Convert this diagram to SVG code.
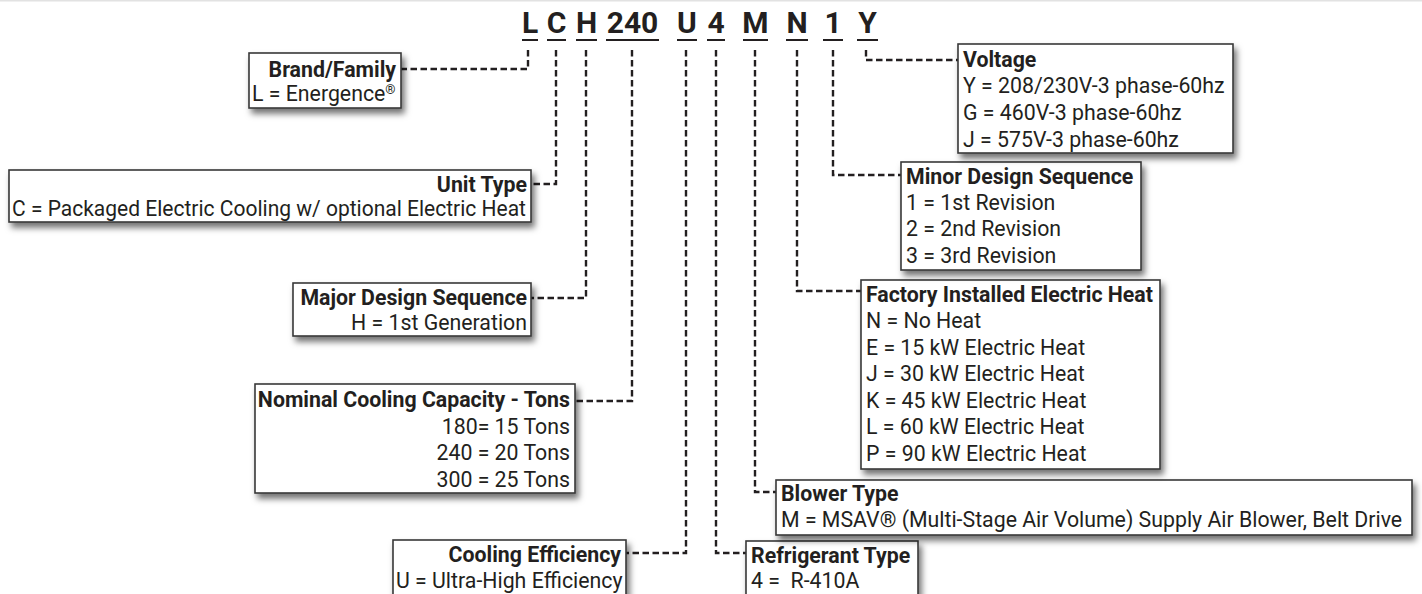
<svg xmlns="http://www.w3.org/2000/svg" width="1422" height="594" viewBox="0 0 1422 594">
<defs>
<filter id="sh" x="-10%" y="-20%" width="125%" height="160%">
<feDropShadow dx="3" dy="5" stdDeviation="3" flood-color="#000" flood-opacity="0.55"/>
</filter>
<style>
.box{fill:#fff;stroke:#3a3a3a;stroke-width:1.6;filter:url(#sh)}
.t{font-family:Roboto,"Liberation Sans",sans-serif;font-size:21.3px;fill:#231f20}
.b{font-weight:bold}
.r{text-anchor:end}
.code{font-family:Roboto,"Liberation Sans",sans-serif;font-size:30px;font-weight:bold;fill:#231f20;text-anchor:middle}
.ul{stroke:#231f20;stroke-width:2}
.c{fill:none;stroke:#231f20;stroke-width:2.4;stroke-dasharray:6.5 3.5}
</style>
</defs>
<rect x="0" y="0" width="1422" height="594" fill="#fff"/>
<line x1="0" y1="0.5" x2="1422" y2="0.5" stroke="#e2e2e2" stroke-width="2"/>
<g id="code">
<text class="code" x="530" y="33">L</text>
<text class="code" x="556.5" y="33">C</text>
<text class="code" x="586.5" y="33">H</text>
<text class="code" x="632.5" y="33">240</text>
<text class="code" x="687" y="33">U</text>
<text class="code" x="716" y="33">4</text>
<text class="code" x="755.5" y="33">M</text>
<text class="code" x="797" y="33">N</text>
<text class="code" x="833" y="33">1</text>
<text class="code" x="867.5" y="33">Y</text>
<line class="ul" x1="522" y1="40" x2="538" y2="40"/>
<line class="ul" x1="547" y1="40" x2="566" y2="40"/>
<line class="ul" x1="576" y1="40" x2="597" y2="40"/>
<line class="ul" x1="606" y1="40" x2="659" y2="40"/>
<line class="ul" x1="677" y1="40" x2="697" y2="40"/>
<line class="ul" x1="707" y1="40" x2="725" y2="40"/>
<line class="ul" x1="743" y1="40" x2="768" y2="40"/>
<line class="ul" x1="786" y1="40" x2="808" y2="40"/>
<line class="ul" x1="823" y1="40" x2="843" y2="40"/>
<line class="ul" x1="857" y1="40" x2="878" y2="40"/>
</g>
<g id="connectors">
<polyline class="c" points="528,50 528,69 401,69"/>
<polyline class="c" points="556,50 556,184 531,184"/>
<polyline class="c" points="586,50 586,298 531,298"/>
<polyline class="c" points="632,50 632,401 575,401"/>
<polyline class="c" points="686,50 686,553 626,553"/>
<polyline class="c" points="716,50 716,553 746,553"/>
<polyline class="c" points="755,50 755,492 776,492"/>
<polyline class="c" points="797,50 797,291 861,291"/>
<polyline class="c" points="833,50 833,175 901,175"/>
<polyline class="c" points="866,50 866,60 958,60"/>
</g>
<g id="brand">
<rect class="box" x="249" y="53" width="152" height="55"/>
<text class="t b r" x="396" y="77">Brand/Family</text>
<text class="t" x="252" y="101">L = Energence<tspan font-size="13" dy="-7">®</tspan></text>
</g>
<g id="unit-type">
<rect class="box" x="9" y="170" width="522" height="52"/>
<text class="t b r" x="527" y="192">Unit Type</text>
<text class="t" x="12" y="216" textLength="514" lengthAdjust="spacingAndGlyphs">C = Packaged Electric Cooling w/ optional Electric Heat</text>
</g>
<g id="major">
<rect class="box" x="293" y="283" width="238" height="53"/>
<text class="t b r" x="527" y="305">Major Design Sequence</text>
<text class="t r" x="527" y="330">H = 1st Generation</text>
</g>
<g id="capacity">
<rect class="box" x="255" y="384" width="320" height="109"/>
<text class="t b r" x="570" y="407">Nominal Cooling Capacity - Tons</text>
<text class="t r" x="570" y="434">180= 15 Tons</text>
<text class="t r" x="570" y="460">240 = 20 Tons</text>
<text class="t r" x="570" y="487">300 = 25 Tons</text>
</g>
<g id="efficiency">
<rect class="box" x="393" y="540" width="233" height="70"/>
<text class="t b r" x="621" y="562">Cooling Efficiency</text>
<text class="t" x="396" y="588">U = Ultra-High Efficiency</text>
</g>
<g id="refrigerant">
<rect class="box" x="746" y="541" width="172" height="70"/>
<text class="t b" x="751" y="563">Refrigerant Type</text>
<text class="t" x="751" y="588" xml:space="preserve">4 =  R-410A</text>
</g>
<g id="blower">
<rect class="box" x="776" y="480" width="636" height="55"/>
<text class="t b" x="781" y="501">Blower Type</text>
<text class="t" x="781" y="527">M = MSAV® (Multi-Stage Air Volume) Supply Air Blower, Belt Drive</text>
</g>
<g id="heat">
<rect class="box" x="861" y="280" width="299" height="189"/>
<text class="t b" x="866" y="302">Factory Installed Electric Heat</text>
<text class="t" x="866" y="328">N = No Heat</text>
<text class="t" x="866" y="355">E = 15 kW Electric Heat</text>
<text class="t" x="866" y="381">J = 30 kW Electric Heat</text>
<text class="t" x="866" y="408">K = 45 kW Electric Heat</text>
<text class="t" x="866" y="434">L = 60 kW Electric Heat</text>
<text class="t" x="866" y="461">P = 90 kW Electric Heat</text>
</g>
<g id="minor">
<rect class="box" x="901" y="162" width="240" height="108"/>
<text class="t b" x="906" y="184">Minor Design Sequence</text>
<text class="t" x="906" y="210">1 = 1st Revision</text>
<text class="t" x="906" y="236">2 = 2nd Revision</text>
<text class="t" x="906" y="263">3 = 3rd Revision</text>
</g>
<g id="voltage">
<rect class="box" x="958" y="44" width="275" height="109"/>
<text class="t b" x="963" y="67">Voltage</text>
<text class="t" x="963" y="93">Y = 208/230V-3 phase-60hz</text>
<text class="t" x="963" y="120">G = 460V-3 phase-60hz</text>
<text class="t" x="963" y="147">J = 575V-3 phase-60hz</text>
</g>
</svg>
